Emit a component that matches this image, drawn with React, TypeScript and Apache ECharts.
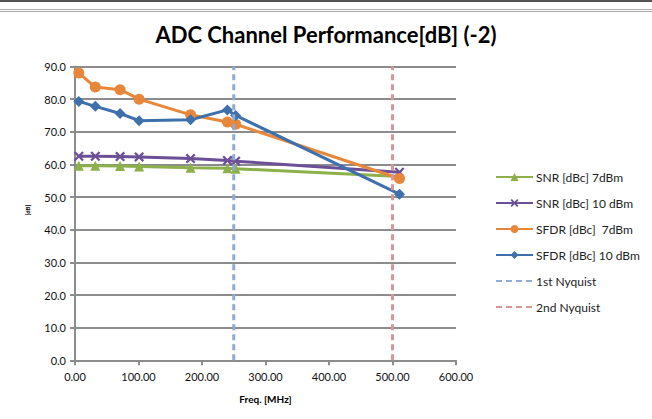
import React, { useEffect, useRef } from "react";
import * as echarts from "echarts";

// Measured frequencies (MHz) and results (dB)
const freqs = [6, 32, 71, 101, 182, 240, 253, 511];
const snr7 = [59.6, 59.6, 59.5, 59.4, 59.0, 58.8, 58.7, 56.3];
const snr10 = [62.5, 62.5, 62.4, 62.3, 61.8, 61.2, 61.0, 57.6];
const sfdr7 = [88.0, 83.7, 82.9, 80.0, 75.2, 73.0, 72.3, 55.7];
const sfdr10 = [79.3, 77.8, 75.6, 73.4, 73.7, 76.7, 75.0, 50.9];

const nyquist1 = 250;
const nyquist2 = 500;

const seriesNames = [
  "SNR [dBc] 7dBm",
  "SNR [dBc] 10 dBm",
  "SFDR [dBc]  7dBm",
  "SFDR [dBc] 10 dBm",
  "1st Nyquist",
  "2nd Nyquist",
];

const FONT = "Lato, 'Open Sans', sans-serif";
const X_SYMBOL =
  "path://M0,1.6L1.6,0L5,3.4L8.4,0L10,1.6L6.6,5L10,8.4L8.4,10L5,6.6L1.6,10L0,8.4L3.4,5Z";

const pairs = (ys: number[]) => freqs.map((f, i) => [f, ys[i]]);

export default function App() {
  const ref = useRef<HTMLDivElement>(null);

  useEffect(() => {
    if (!ref.current) return;
    const chart = echarts.init(ref.current, undefined, { renderer: "svg" });

    const lineSeries = (
      name: string,
      ys: number[],
      color: string,
      symbol: string,
      size: number
    ) => ({
      name,
      type: "line",
      data: pairs(ys),
      symbol,
      symbolSize: size,
      showAllSymbol: true,
      lineStyle: { color, width: 3 },
      itemStyle: { color },
      z: 3,
    });

    // Vertical dashed marker spanning the whole value range
    const vline = (name: string, x: number, color: string) => ({
      name,
      type: "line",
      data: [
        [x, 0],
        [x, 90],
      ],
      symbol: "none",
      lineStyle: { color, width: 3, type: [6, 4] },
      itemStyle: { color, opacity: 0 },
      z: 4,
    });

    chart.setOption({
      animation: false,
      backgroundColor: "#ffffff",
      title: {
        text: "ADC Channel Performance[dB] (-2)",
        left: "center",
        top: 18,
        textStyle: { fontFamily: FONT, fontSize: 22, fontWeight: "bold", color: "#000" },
      },
      graphic: [
        { type: "line", shape: { x1: 0, y1: 1, x2: 652, y2: 1 }, style: { stroke: "#555", lineWidth: 2 } },
        { type: "line", shape: { x1: 0, y1: 9.5, x2: 652, y2: 9.5 }, style: { stroke: "#aaa", lineWidth: 1 } },
        { type: "line", shape: { x1: 0, y1: 11.5, x2: 652, y2: 11.5 }, style: { stroke: "#aaa", lineWidth: 1 } },
        {
          type: "text",
          x: 27,
          y: 210,
          rotation: Math.PI / 2,
          style: {
            text: "[dB]",
            font: "bold 6px " + FONT,
            fill: "#000",
            textAlign: "center",
            textVerticalAlign: "middle",
          },
        },
      ],
      legend: {
        orient: "vertical",
        left: 495,
        top: 171,
        padding: 0,
        itemWidth: 37,
        itemHeight: 10,
        itemGap: 14,
        data: seriesNames,
        textStyle: { fontFamily: FONT, fontSize: 12, color: "#222", padding: [0, 0, 0, -2] },
      },
      grid: { left: 75, right: 196, top: 66.5, bottom: 58.7, containLabel: false },
      xAxis: {
        type: "value",
        min: 0,
        max: 600,
        interval: 100,
        name: "Freq. [MHz]",
        nameLocation: "middle",
        nameGap: 34,
        nameTextStyle: { fontFamily: FONT, fontSize: 10, fontWeight: "bold", color: "#000" },
        axisLine: { show: true, lineStyle: { color: "#8c8c8c", width: 2 } },
        axisTick: { show: true, length: 5, lineStyle: { color: "#8c8c8c", width: 2 } },
        axisLabel: {
          fontFamily: FONT,
          fontSize: 11,
          color: "#111",
          margin: 11,
          formatter: (v: number) => v.toFixed(2),
        },
        splitLine: { show: false },
      },
      yAxis: {
        type: "value",
        min: 0,
        max: 90,
        interval: 10,
        axisLine: { show: true, lineStyle: { color: "#8c8c8c", width: 2 } },
        axisTick: { show: true, length: 5, lineStyle: { color: "#8c8c8c", width: 2 } },
        axisLabel: {
          fontFamily: FONT,
          fontSize: 11,
          color: "#111",
          margin: 9,
          formatter: (v: number) => v.toFixed(1),
        },
        splitLine: { show: true, lineStyle: { color: "#8c8c8c", width: 2 } },
      },
      series: [
        lineSeries(seriesNames[0], snr7, "#8cb04b", "triangle", 10),
        lineSeries(seriesNames[1], snr10, "#6c4f96", X_SYMBOL, 10),
        lineSeries(seriesNames[2], sfdr7, "#e8873a", "circle", 11),
        lineSeries(seriesNames[3], sfdr10, "#3e70ab", "diamond", 11),
        vline(seriesNames[4], nyquist1, "#8eaad6"),
        vline(seriesNames[5], nyquist2, "#d99694"),
      ],
    });

    return () => chart.dispose();
  }, []);

  return (
    <div
      ref={ref}
      style={{ position: "fixed", left: 0, top: 0, width: 652, height: 419 }}
    />
  );
}
